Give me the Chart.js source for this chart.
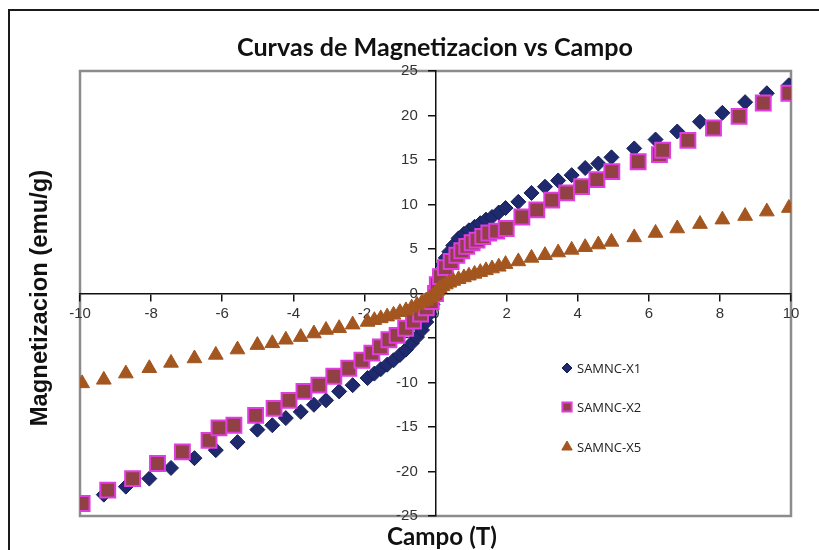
<!DOCTYPE html>
<html>
<head>
<meta charset="utf-8">
<script src="https://cdn.jsdelivr.net/npm/chart.js@4.4.1/dist/chart.umd.min.js"></script>
<style>
  body { margin: 0; background: #fff; }
  #wrap { width: 819px; height: 550px; position: relative; }
</style>
</head>
<body>
<div id="wrap"><canvas id="magChart"></canvas></div>
<script>
// Campo (T) / Magnetizacion (emu/g)
const campoX1 = [-9.94, -9.33, -8.71, -8.05, -7.44, -6.78, -6.18, -5.57, -5.01, -4.59, -4.21, -3.79, -3.42, -3.08, -2.71, -2.33, -1.91, -1.72, -1.54, -1.36, -1.18, -1.0, -0.83, -0.67, -0.52, -0.38, -0.26, -0.16, -0.08, 0, 0.06, 0.12, 0.2, 0.29, 0.39, 0.5, 0.65, 0.8, 0.94, 1.1, 1.26, 1.42, 1.59, 1.78, 1.97, 2.33, 2.70, 3.08, 3.45, 3.83, 4.21, 4.58, 4.95, 5.59, 6.19, 6.80, 7.44, 8.07, 8.71, 9.32, 9.94];
const magX1 = [-23.5, -22.6, -21.7, -20.8, -19.6, -18.5, -17.6, -16.7, -15.3, -14.8, -14.0, -13.3, -12.5, -12.0, -11.0, -10.3, -9.5, -9.0, -8.5, -8.0, -7.5, -6.9, -6.3, -5.6, -4.9, -4.1, -3.2, -2.3, -1.2, 0.2, 1.4, 2.3, 3.2, 4.0, 4.7, 5.4, 6.2, 6.7, 7.1, 7.5, 7.9, 8.3, 8.6, 9.1, 9.6, 10.3, 11.3, 12.0, 12.7, 13.3, 14.1, 14.6, 15.3, 16.3, 17.3, 18.2, 19.3, 20.3, 21.5, 22.5, 23.4];

const campoX2 = [-9.94, -9.22, -8.52, -7.82, -7.12, -6.37, -6.09, -5.67, -5.06, -4.54, -4.12, -3.70, -3.28, -2.86, -2.44, -2.07, -1.79, -1.55, -1.31, -1.08, -0.84, -0.62, -0.42, -0.26, -0.12, 0, 0.05, 0.14, 0.28, 0.44, 0.6, 0.74, 0.88, 1.03, 1.17, 1.33, 1.5, 1.72, 1.99, 2.43, 2.85, 3.27, 3.69, 4.11, 4.54, 4.96, 5.70, 6.30, 6.39, 7.10, 7.82, 8.54, 9.22, 9.94];
const magX2 = [-23.6, -22.1, -20.8, -19.1, -17.8, -16.5, -15.1, -14.8, -13.7, -12.9, -12.0, -11.0, -10.3, -9.3, -8.4, -7.5, -6.7, -6.0, -5.2, -4.7, -3.9, -3.1, -2.3, -1.6, -0.9, 0, 1.0, 1.9, 2.9, 3.6, 4.3, 4.8, 5.3, 5.7, 6.0, 6.4, 6.8, 7.0, 7.3, 8.6, 9.4, 10.5, 11.3, 12.0, 12.8, 13.7, 14.8, 15.6, 16.1, 17.2, 18.6, 19.9, 21.4, 22.5];

const campoX5 = campoX1;
const magX5 = [-10.1, -9.7, -9.0, -8.4, -7.8, -7.3, -6.9, -6.3, -5.8, -5.6, -5.2, -4.9, -4.5, -4.1, -3.9, -3.5, -3.2, -3.0, -2.8, -2.6, -2.4, -2.1, -1.9, -1.6, -1.3, -1.0, -0.8, -0.5, -0.3, 0.0, 0.3, 0.6, 0.8, 1.0, 1.2, 1.4, 1.6, 1.8, 2.0, 2.2, 2.4, 2.6, 2.8, 3.0, 3.3, 3.6, 4.0, 4.3, 4.6, 4.9, 5.2, 5.5, 5.8, 6.3, 6.8, 7.3, 7.8, 8.3, 8.7, 9.2, 9.6];

const seriesNames = ['SAMNC-X1', 'SAMNC-X2', 'SAMNC-X5'];
const xTicks = { min: -10, max: 10, step: 2 };
const yTicks = { min: -25, max: 25, step: 5 };

function toPoints(xs, ys) {
  return xs.map((x, i) => ({ x: x, y: ys[i] }));
}

const styles = [
  { pointStyle: 'rectRot', radius: 7.5, bg: '#1f2a6e', border: '#162058', bw: 1 },
  { pointStyle: 'rect', radius: 10.5, bg: '#914046', border: '#e03ce0', bw: 2 },
  { pointStyle: 'triangle', radius: 8.5, bg: '#a3561f', border: '#a3561f', bw: 1 }
];

// fit a font so the text spans a given width
function fitFont(ctx, text, weight, family, width) {
  let size = 20;
  ctx.font = weight + ' ' + size + 'px ' + family;
  size = size * width / ctx.measureText(text).width;
  return weight + ' ' + size.toFixed(1) + 'px ' + family;
}

const decoPlugin = {
  id: 'deco',
  beforeDraw(chart) {
    const ctx = chart.ctx;
    const a = chart.chartArea;
    ctx.save();
    ctx.fillStyle = '#fff';
    ctx.fillRect(0, 0, chart.width, chart.height);
    // outer frame
    ctx.strokeStyle = '#1a1a1a';
    ctx.lineWidth = 2;
    ctx.strokeRect(9, 10, chart.width + 20, chart.height + 20);
    // plot area border
    ctx.strokeStyle = '#8c8c8c';
    ctx.lineWidth = 2.5;
    ctx.strokeRect(a.left, a.top, a.right - a.left, a.bottom - a.top);
    ctx.restore();
  },
  afterDraw(chart) {
    const ctx = chart.ctx;
    ctx.save();
    ctx.fillStyle = '#111';
    ctx.textAlign = 'center';
    ctx.textBaseline = 'middle';

    ctx.font = fitFont(ctx, 'Curvas de Magnetizacion vs Campo', 'bold', 'Lato', 396);
    ctx.fillText('Curvas de Magnetizacion vs Campo', 435, 48);

    ctx.font = fitFont(ctx, 'Campo (T)', 'bold', 'Lato', 110);
    ctx.fillText('Campo (T)', 442, 537);

    ctx.save();
    ctx.translate(40, 298);
    ctx.rotate(-Math.PI / 2);
    ctx.font = fitFont(ctx, 'Magnetizacion (emu/g)', 'bold', 'Liberation Sans', 257);
    ctx.fillText('Magnetizacion (emu/g)', 0, 0);
    ctx.restore();

    // legend
    const legendY = [368, 407, 447];
    const legendR = [5, 6.5, 6];
    ctx.textAlign = 'left';
    ctx.font = '13px "Open Sans"';
    seriesNames.forEach((name, i) => {
      const s = styles[i];
      ctx.fillStyle = s.bg;
      ctx.strokeStyle = s.border;
      ctx.lineWidth = s.bw;
      Chart.helpers.drawPoint(ctx, { pointStyle: s.pointStyle, rotation: 0, radius: legendR[i], borderWidth: s.bw }, 567, legendY[i]);
      ctx.fillStyle = '#222';
      ctx.fillText(name, 577, legendY[i] + 1);
    });
    ctx.restore();
  }
};

const datasets = [
  { x: campoX1, y: magX1 },
  { x: campoX2, y: magX2 },
  { x: campoX5, y: magX5 }
].map((d, i) => ({
  label: seriesNames[i],
  data: toPoints(d.x, d.y),
  showLine: false,
  pointStyle: styles[i].pointStyle,
  pointRadius: styles[i].radius,
  pointBackgroundColor: styles[i].bg,
  pointBorderColor: styles[i].border,
  pointBorderWidth: styles[i].bw,
  order: 3 - i
}));

const tickFont = { family: 'Liberation Sans', size: 15 };

new Chart(document.getElementById('magChart'), {
  type: 'scatter',
  data: { datasets: datasets },
  options: {
    responsive: true,
    maintainAspectRatio: false,
    animation: false,
    layout: { padding: { left: 80, top: 71, right: 28, bottom: 34 } },
    plugins: { legend: { display: false }, title: { display: false }, tooltip: { enabled: false } },
    scales: {
      x: {
        type: 'linear',
        position: { y: 0 },
        min: xTicks.min, max: xTicks.max,
        grid: { drawOnChartArea: false, drawTicks: true, tickLength: 7, color: '#111', lineWidth: 1.5 },
        border: { display: true, color: '#111', width: 1.5 },
        ticks: { stepSize: xTicks.step, padding: 4, color: '#333', font: tickFont },
        afterFit: s => { s.height = 0; }
      },
      y: {
        type: 'linear',
        position: { x: 0 },
        min: yTicks.min, max: yTicks.max,
        grid: { drawOnChartArea: false, drawTicks: true, tickLength: 7, color: '#111', lineWidth: 1.5 },
        border: { display: true, color: '#111', width: 1.5 },
        ticks: { stepSize: yTicks.step, display: false },
        afterFit: s => { s.width = 0; }
      },
      // carries the y labels, set off a little left of the axis line
      yLabels: {
        type: 'linear',
        position: { x: -0.5 },
        min: yTicks.min, max: yTicks.max,
        grid: { display: false },
        border: { display: false },
        ticks: { stepSize: yTicks.step, color: '#333', font: tickFont },
        afterFit: s => { s.width = 0; }
      }
    }
  },
  plugins: [decoPlugin]
});
</script>
</body>
</html>
